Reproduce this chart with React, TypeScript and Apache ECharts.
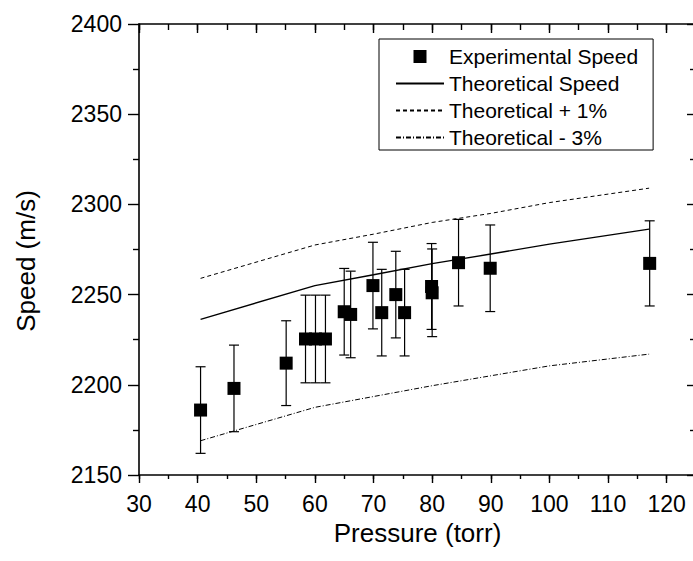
import React, { useEffect, useRef } from 'react';
import * as echarts from 'echarts';

// Experimental points (pressure in torr, speed in m/s, error half-width)
const expPressure = [40.5, 46.2, 55.1, 58.4, 60.1, 61.8, 65.0, 66.1, 69.9, 71.4, 73.8, 75.3, 79.9, 80.0, 84.5, 89.9, 117.1];
const expSpeed = [2186, 2198, 2212, 2225.4, 2225.4, 2225.4, 2240.5, 2239, 2255, 2240, 2250, 2240, 2254.5, 2251, 2267.7, 2264.6, 2267.3];
const expError = [24, 24, 23.5, 24.3, 24.3, 24.3, 24, 24, 24, 24, 24, 24, 23.8, 24.3, 24, 24, 23.6];

// Theoretical curves
const theoPressure = [40.5, 60, 70, 80, 90, 100, 117];
const theoSpeed = [2236.3, 2255, 2261, 2267.2, 2272.5, 2278, 2286.3];
const theoPlus = [2259, 2277.5, 2283.5, 2290, 2295, 2301, 2309];
const theoMinus = [2169, 2187.5, 2193.5, 2199.5, 2205, 2210.5, 2217];

const xTicks = [30, 40, 50, 60, 70, 80, 90, 100, 110, 120];

export default function App() {
  const ref = useRef<HTMLDivElement>(null);
  useEffect(() => {
    const chart = echarts.init(ref.current!, null, { renderer: 'svg' });
    const font = '"Liberation Sans", Arial, sans-serif';
    const black = '#000';
    const expData = expPressure.map((p, i) => [p, expSpeed[i]]);
    const errData = expPressure.map((p, i) => [p, expSpeed[i] - expError[i], expSpeed[i] + expError[i]]);
    const zip = (ys: number[]) => theoPressure.map((p, i) => [p, ys[i]]);
    const axisLine = { show: true, onZero: false, lineStyle: { color: black, width: 1.6 } };
    const tickStyle = { color: black, width: 1.4 };
    const baseX: any = { type: 'value', min: 30, max: 125, splitLine: { show: false } };
    const hiddenSymbol = { opacity: 0 };
    chart.setOption({
      animation: false,
      backgroundColor: '#fff',
      grid: { left: 139, top: 24, width: 557, height: 451, containLabel: false, outerBoundsMode: 'none' },
      legend: {
        orient: 'vertical',
        left: 379,
        top: 39,
        padding: [7, 15, 2, 16],
        itemWidth: 48,
        itemHeight: 13,
        itemGap: 6,
        borderColor: black,
        borderWidth: 1,
        borderRadius: 0,
        backgroundColor: '#fff',
        selectedMode: false,
        textStyle: { fontFamily: font, fontSize: 21, color: black },
        data: [
          { name: 'Experimental Speed', icon: 'path://M0,0L10,0L10,10L0,10Z' },
          { name: 'Theoretical Speed', itemStyle: hiddenSymbol },
          { name: 'Theoretical + 1%', itemStyle: hiddenSymbol },
          { name: 'Theoretical - 3%', itemStyle: hiddenSymbol },
        ],
      },
      xAxis: [
        {
          ...baseX,
          position: 'bottom',
          interval: 10,
          axisLine,
          axisTick: { show: true, length: 8, lineStyle: tickStyle },
          axisLabel: {
            fontFamily: font,
            fontSize: 23,
            color: black,
            margin: 17,
            formatter: (v: number) => (xTicks.indexOf(v) >= 0 ? String(v) : ''),
          },
          name: 'Pressure (torr)',
          nameLocation: 'middle',
          nameGap: 40,
          nameTextStyle: { fontFamily: font, fontSize: 26, color: black },
        },
        {
          ...baseX,
          position: 'bottom',
          interval: 5,
          axisLine: { show: false },
          axisTick: { show: true, length: 4, lineStyle: tickStyle },
          axisLabel: { show: false },
        },
        {
          ...baseX,
          position: 'top',
          interval: 10,
          axisLine,
          axisTick: { show: true, inside: true, length: 9, lineStyle: tickStyle },
          axisLabel: { show: false },
        },
        {
          ...baseX,
          position: 'top',
          interval: 5,
          axisLine: { show: false },
          axisTick: { show: true, inside: true, length: 6, lineStyle: tickStyle },
          axisLabel: { show: false },
        },
      ],
      yAxis: [
        {
          type: 'value',
          min: 2150,
          max: 2400,
          interval: 50,
          position: 'left',
          splitLine: { show: false },
          axisLine,
          axisTick: { show: true, length: 11, lineStyle: tickStyle },
          minorTick: { show: true, splitNumber: 2, length: 6, lineStyle: tickStyle },
          axisLabel: { fontFamily: font, fontSize: 23, color: black, margin: 17, formatter: (v: number) => String(v) },
          name: 'Speed (m/s)',
          nameLocation: 'middle',
          nameGap: 100,
          nameRotate: 90,
          nameTextStyle: { fontFamily: font, fontSize: 26, color: black, padding: [0, 23, 0, 0] },
        },
        {
          type: 'value',
          min: 2150,
          max: 2400,
          interval: 50,
          position: 'right',
          splitLine: { show: false },
          axisLine,
          axisTick: { show: true, inside: true, length: 9, lineStyle: tickStyle },
          minorTick: { show: true, splitNumber: 2, length: 6, lineStyle: tickStyle },
          axisLabel: { show: false },
        },
      ],
      series: [
        {
          type: 'custom',
          name: 'errors',
          xAxisIndex: 0,
          yAxisIndex: 0,
          data: errData,
          encode: { x: 0, y: [1, 2] },
          renderItem: (params: any, api: any) => {
            const x = api.value(0);
            const lo = api.coord([x, api.value(1)]);
            const hi = api.coord([x, api.value(2)]);
            const w = 5;
            const style = { stroke: black, lineWidth: 1.2 };
            return {
              type: 'group',
              children: [
                { type: 'line', shape: { x1: lo[0], y1: lo[1], x2: hi[0], y2: hi[1] }, style },
                { type: 'line', shape: { x1: lo[0] - w, y1: lo[1], x2: lo[0] + w, y2: lo[1] }, style },
                { type: 'line', shape: { x1: hi[0] - w, y1: hi[1], x2: hi[0] + w, y2: hi[1] }, style },
              ],
            };
          },
        },
        {
          type: 'scatter',
          name: 'Experimental Speed',
          xAxisIndex: 0,
          yAxisIndex: 0,
          symbol: 'rect',
          symbolSize: 13,
          itemStyle: { color: black, opacity: 1 },
          data: expData,
          z: 3,
        },
        {
          type: 'line',
          name: 'Theoretical Speed',
          xAxisIndex: 0,
          yAxisIndex: 0,
          symbol: 'none',
          lineStyle: { color: black, width: 1.3 },
          itemStyle: { color: black },
          data: zip(theoSpeed),
        },
        {
          type: 'line',
          name: 'Theoretical + 1%',
          xAxisIndex: 0,
          yAxisIndex: 0,
          symbol: 'none',
          lineStyle: { color: black, width: 1, type: [4, 3] },
          itemStyle: { color: black },
          data: zip(theoPlus),
        },
        {
          type: 'line',
          name: 'Theoretical - 3%',
          xAxisIndex: 0,
          yAxisIndex: 0,
          symbol: 'none',
          lineStyle: { color: black, width: 1, type: [5, 2, 1, 2] },
          itemStyle: { color: black },
          data: zip(theoMinus),
        },
      ],
    });
    return () => chart.dispose();
  }, []);
  return <div ref={ref} style={{ position: 'absolute', left: 0, top: 0, width: 693, height: 561 }} />;
}
